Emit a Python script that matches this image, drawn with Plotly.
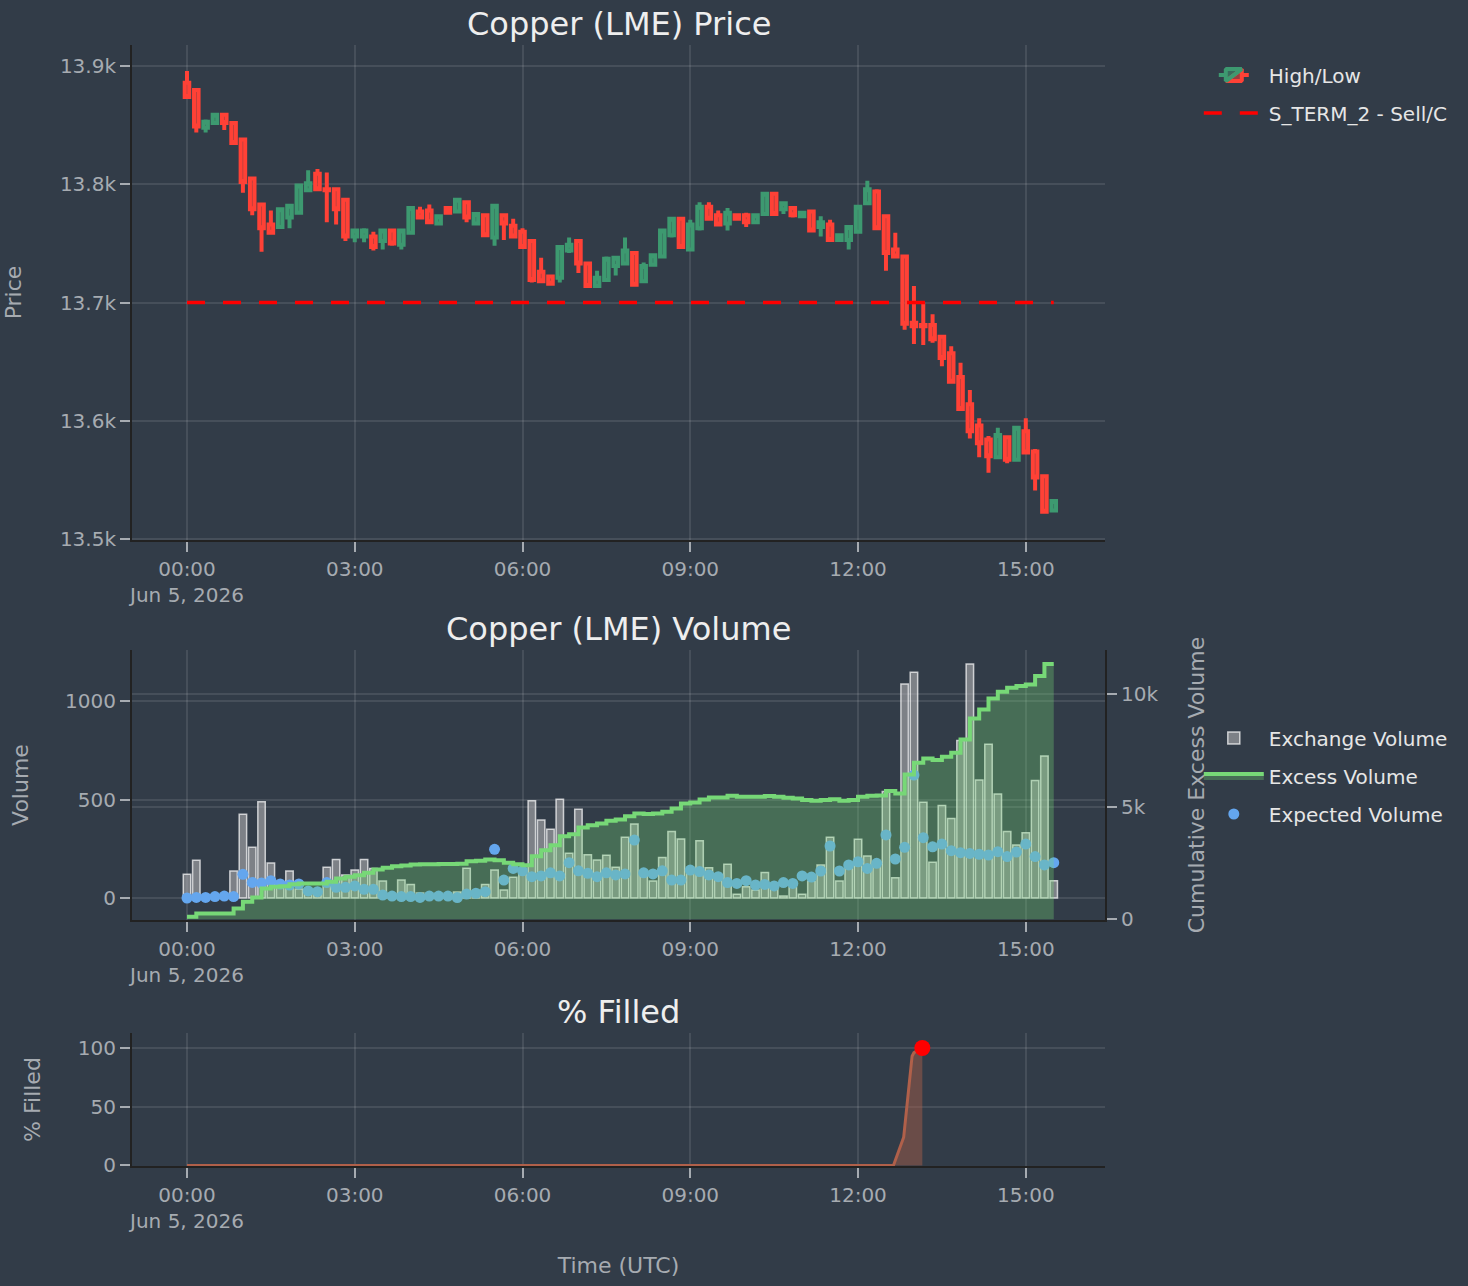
import pandas as pd
import plotly.graph_objects as go

# ---------------- data ----------------
times = pd.date_range("2026-06-05 00:00", periods=94, freq="10min")

price_open = [13886, 13880, 13848, 13852, 13859, 13852, 13838, 13805, 13783, 13766,
              13764, 13772, 13776, 13795, 13809, 13796, 13796, 13787, 13756, 13756,
              13756, 13752, 13761, 13749, 13759, 13777, 13778, 13767, 13780, 13777,
              13785, 13767, 13774, 13755, 13774, 13765, 13760, 13752, 13726, 13722,
              13721, 13744, 13752, 13733, 13714, 13719, 13731, 13733, 13742, 13718,
              13732, 13739, 13757, 13771, 13745, 13763, 13781, 13774, 13767, 13774,
              13774, 13768, 13775, 13792, 13779, 13780, 13773, 13777, 13764, 13766,
              13753, 13753, 13760, 13784, 13794, 13773, 13745, 13739, 13683, 13681,
              13681, 13671, 13657, 13637, 13614, 13596, 13584, 13569, 13586, 13567,
              13591, 13574, 13553, 13524]
price_high = [13896, 13881, 13855, 13860, 13860, 13853, 13838, 13806, 13784, 13778,
              13780, 13783, 13799, 13812, 13813, 13810, 13796, 13788, 13762, 13763,
              13760, 13761, 13762, 13762, 13781, 13781, 13783, 13773, 13780, 13788,
              13785, 13775, 13775, 13782, 13775, 13771, 13763, 13753, 13738, 13723,
              13747, 13755, 13752, 13734, 13727, 13739, 13739, 13755, 13742, 13734,
              13741, 13762, 13772, 13772, 13770, 13785, 13785, 13778, 13780, 13775,
              13776, 13774, 13793, 13793, 13785, 13781, 13777, 13778, 13773, 13770,
              13758, 13764, 13782, 13803, 13796, 13773, 13759, 13740, 13714, 13700,
              13690, 13672, 13663, 13649, 13626, 13602, 13587, 13594, 13587, 13595,
              13602, 13576, 13554, 13533]
price_low = [13873, 13844, 13844, 13851, 13846, 13834, 13793, 13774, 13743, 13758,
             13763, 13763, 13776, 13795, 13795, 13768, 13766, 13752, 13751, 13751,
             13744, 13745, 13748, 13745, 13758, 13771, 13767, 13766, 13775, 13776,
             13768, 13766, 13756, 13748, 13753, 13755, 13746, 13717, 13717, 13715,
             13717, 13742, 13725, 13713, 13713, 13718, 13723, 13732, 13714, 13717,
             13731, 13739, 13755, 13746, 13744, 13761, 13771, 13765, 13761, 13770,
             13764, 13767, 13775, 13774, 13775, 13772, 13772, 13761, 13756, 13752,
             13752, 13745, 13759, 13783, 13763, 13727, 13738, 13677, 13665, 13664,
             13666, 13646, 13632, 13609, 13585, 13569, 13556, 13569, 13564, 13566,
             13572, 13541, 13522, 13523]
price_close = [13874, 13849, 13853, 13859, 13852, 13835, 13802, 13779, 13763, 13759,
               13779, 13782, 13799, 13801, 13796, 13795, 13779, 13756, 13761, 13761,
               13747, 13761, 13750, 13761, 13780, 13772, 13768, 13773, 13776, 13787,
               13772, 13775, 13757, 13782, 13767, 13756, 13747, 13719, 13718, 13716,
               13747, 13749, 13733, 13714, 13721, 13737, 13738, 13744, 13715, 13731,
               13740, 13761, 13771, 13747, 13766, 13781, 13771, 13766, 13776, 13771,
               13768, 13774, 13792, 13775, 13784, 13774, 13776, 13761, 13768, 13753,
               13757, 13764, 13781, 13796, 13763, 13742, 13739, 13682, 13680, 13680,
               13669, 13653, 13633, 13610, 13591, 13581, 13570, 13588, 13567, 13594,
               13573, 13552, 13523, 13532]

sell_level = 13700

exchange_volume = [120, 191, 12, 15, 10, 137, 425, 257, 489, 178,
                   60, 137, 45, 30, 40, 156, 196, 117, 142, 196,
                   150, 86, 20, 91, 69, 25, 15, 20, 10, 30,
                   151, 35, 69, 142, 41, 105, 150, 494, 396, 349,
                   501, 227, 450, 220, 193, 217, 156, 308, 376, 120,
                   86, 206, 337, 300, 130, 291, 154, 110, 171, 19,
                   57, 40, 130, 55, 10, 55, 19, 85, 168, 308,
                   86, 176, 298, 213, 159, 540, 103, 1086, 1146, 486,
                   181, 470, 404, 799, 1188, 599, 780, 528, 337, 269,
                   331, 596, 721, 88]
expected_volume = [0, 3, 3, 7, 10, 7, 120, 79, 76, 88,
                   71, 66, 71, 36, 32, 78, 54, 54, 61, 44,
                   44, 15, 10, 7, 7, 3, 10, 10, 10, 2,
                   20, 24, 32, 247, 91, 150, 138, 108, 112, 128,
                   112, 179, 138, 125, 108, 128, 117, 122, 294, 128,
                   122, 138, 91, 91, 142, 134, 117, 108, 78, 74,
                   88, 66, 69, 61, 78, 74, 112, 106, 137, 264,
                   137, 168, 184, 150, 176, 320, 198, 257, 624, 306,
                   260, 274, 240, 230, 226, 222, 218, 235, 210, 233,
                   274, 210, 168, 179]
cum_excess_volume = [102, 253, 253, 253, 253, 475, 770, 963, 1363, 1437,
                     1467, 1555, 1585, 1585, 1585, 1659, 1807, 1881, 1955, 2059,
                     2207, 2281, 2355, 2385, 2430, 2445, 2445, 2450, 2450, 2460,
                     2578, 2593, 2652, 2622, 2504, 2444, 2400, 2800, 3067, 3289,
                     3689, 3778, 4074, 4178, 4252, 4370, 4430, 4578, 4696, 4667,
                     4696, 4770, 4919, 5141, 5185, 5319, 5407, 5407, 5481, 5437,
                     5437, 5437, 5467, 5437, 5393, 5363, 5289, 5259, 5289, 5333,
                     5259, 5289, 5437, 5481, 5496, 5689, 5585, 6430, 6948, 7141,
                     7067, 7215, 7393, 7985, 8919, 9319, 9807, 10104, 10281, 10355,
                     10430, 10800, 11333, 11333]

fill_times = ["2026-06-05 00:00", "2026-06-05 12:38", "2026-06-05 12:49",
              "2026-06-05 12:58", "2026-06-05 13:00", "2026-06-05 13:09"]
fill_pct = [0, 0, 24, 93, 96, 100]

# ---------------- style ----------------
BG = "#323c48"
GRID = "rgba(255,255,255,0.10)"
TXT = "#a6abb1"
TITLE = "#eeeeee"
FONT = "DejaVu Sans"
x_range = ["2026-06-04 23:01:00", "2026-06-05 16:25:00"]

xcommon = dict(type="date", range=x_range, dtick=3 * 3600 * 1000, tick0="2026-06-05 00:00",
               showgrid=True, gridcolor=GRID, gridwidth=2, zeroline=False,
               showline=True, linecolor="#222222", linewidth=2,
               ticks="outside", ticklen=10, tickwidth=2, tickcolor=TXT,
               tickfont=dict(size=20, color=TXT))
ycommon = dict(showgrid=True, gridcolor=GRID, gridwidth=2, zeroline=False,
               showline=True, linecolor="#222222", linewidth=2,
               ticks="outside", ticklen=10, tickwidth=2, tickcolor=TXT,
               tickfont=dict(size=20, color=TXT))

fig = go.Figure()

fig.add_trace(go.Candlestick(
    x=times, open=price_open, high=price_high, low=price_low, close=price_close,
    name="High/Low", xaxis="x", yaxis="y", legend="legend", legendgroup="p1",
    increasing=dict(line=dict(color="#3D9970", width=4)),
    decreasing=dict(line=dict(color="#FF4136", width=4)),
))
fig.add_trace(go.Scatter(
    x=[times[0], times[-1]], y=[sell_level, sell_level], mode="lines",
    name="S_TERM_2 - Sell/C", xaxis="x", yaxis="y", legend="legend", legendgroup="p2",
    line=dict(color="#ff0000", width=3.4, dash="18px,18px"),
))

fig.add_trace(go.Bar(
    x=times, y=exchange_volume, name="Exchange Volume", xaxis="x2", yaxis="y2",
    legend="legend2", legendgroup="v1",
    marker=dict(color="rgba(175,175,178,0.6)", line=dict(color="rgba(255,255,255,0.7)", width=1.5)),
))
fig.add_trace(go.Scatter(
    x=times, y=cum_excess_volume, name="Excess Volume", mode="lines",
    xaxis="x2", yaxis="y3", legend="legend2", legendgroup="v2",
    line=dict(color="#77d877", width=4, shape="hv"),
    fill="tozeroy", fillcolor="rgba(119,216,119,0.32)",
))
fig.add_trace(go.Scatter(
    x=times, y=expected_volume, name="Expected Volume", mode="markers",
    xaxis="x2", yaxis="y2", legend="legend2", legendgroup="v3",
    marker=dict(color="#64a6ee", size=11),
))

fig.add_trace(go.Scatter(
    x=fill_times, y=fill_pct, mode="lines", showlegend=False,
    xaxis="x3", yaxis="y4",
    line=dict(color="#b0604a", width=3),
    fill="tozeroy", fillcolor="rgba(176,96,74,0.45)",
))
fig.add_trace(go.Scatter(
    x=[fill_times[-1]], y=[fill_pct[-1]], mode="markers", showlegend=False,
    xaxis="x3", yaxis="y4", marker=dict(color="#ff0000", size=16),
))

d_top = [0.5584, 1.0]
d_vol = [0.2194, 0.4603]
d_bot = [0.0, 0.1186]


def sub_title(text, y):
    return dict(text=text, x=0.5, xref="paper", y=y, yref="paper", xanchor="center",
                yanchor="bottom", showarrow=False, font=dict(size=32, color=TITLE, family=FONT))


fig.update_layout(
    width=1468, height=1286,
    paper_bgcolor=BG, plot_bgcolor=BG,
    font=dict(family=FONT, size=20, color=TXT),
    margin=dict(l=130, r=363, t=45, b=120),
    showlegend=True,
    xaxis=dict(domain=[0, 1], anchor="y", rangeslider=dict(visible=False), **xcommon),
    yaxis=dict(domain=d_top, anchor="x", range=[13499, 13918], dtick=100,
               title=dict(text="Price", font=dict(size=22, color=TXT), standoff=32), **ycommon),
    xaxis2=dict(domain=[0, 1], anchor="y2", **xcommon),
    yaxis2=dict(domain=d_vol, anchor="x2", range=[-112, 1259], dtick=500,
                title=dict(text="Volume", font=dict(size=22, color=TXT), standoff=30), **ycommon),
    yaxis3=dict(overlaying="y2", side="right", anchor="x2", range=[-40, 11960], dtick=5000,
                title=dict(text="Cumulative Excess Volume", font=dict(size=22, color=TXT), standoff=31),
                **ycommon),
    xaxis3=dict(domain=[0, 1], anchor="y4",
                title=dict(text="Time (UTC)", font=dict(size=22, color=TXT), standoff=26), **xcommon),
    yaxis4=dict(domain=d_bot, anchor="x3", range=[-0.5, 112.7], dtick=50,
                title=dict(text="% Filled", font=dict(size=22, color=TXT), standoff=31), **ycommon),
    legend=dict(x=1.0964, y=0.9906, xanchor="left", yanchor="top", bgcolor="rgba(0,0,0,0)",
                font=dict(size=20, color="#e6e6e6"), itemwidth=60, traceorder="grouped",
                tracegroupgap=9),
    legend2=dict(x=1.0964, y=0.3992, xanchor="left", yanchor="top", bgcolor="rgba(0,0,0,0)",
                 font=dict(size=20, color="#e6e6e6"), itemwidth=60, traceorder="grouped",
                 tracegroupgap=9),
    annotations=[
        sub_title("Copper (LME) Price", d_top[1]),
        sub_title("Copper (LME) Volume", d_vol[1]),
        sub_title("% Filled", d_bot[1]),
    ],
)

fig.write_html("out.html")
